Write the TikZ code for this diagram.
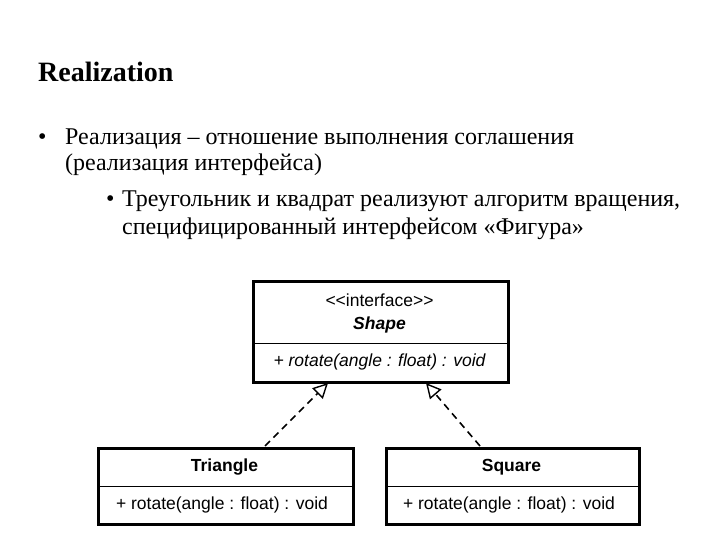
\documentclass[tikz,border=0pt]{standalone}
\usepackage{fontspec}
\setmainfont{Liberation Serif}
\setsansfont[Ligatures=NoCommon]{Liberation Sans}
\usetikzlibrary{arrows.meta}
\begin{document}
\begin{tikzpicture}[x=1pt,y=-1pt,
  box/.style={draw,line width=3pt},
  div/.style={line width=1pt},
  uml/.style={font=\sffamily\fontsize{17.5}{20}\selectfont,inner sep=0},
  txt/.style={anchor=base west,inner sep=0,font=\fontsize{24}{28}\selectfont},
  real/.style={line width=1.6pt,dash pattern=on 7pt off 5pt,-{Triangle[open,length=15pt,width=15pt,line width=1.4pt]}}]
\useasboundingbox (0,0) rectangle (720,540);
\node[anchor=base west,inner sep=0,font=\bfseries\fontsize{28}{32}\selectfont] (title) at (38,82) {Realization};
\node[txt] (b1) at (38,145) {•};
\node[txt] (l1) at (65,145) {Реализация – отношение выполнения соглашения};
\node[txt] (l2) at (65,171) {(реализация интерфейса)};
\node[txt] (b2) at (106,207) {•};
\node[txt] (l3) at (122,207) {Треугольник и квадрат реализуют алгоритм вращения,};
\node[txt] (l4) at (122,234) {специфицированный интерфейсом «Фигура»};
% Shape
\node[box,minimum width=255pt,minimum height=101pt,anchor=north west,inner sep=0] (shape) at (252,280) {};
\draw[div] (252,343) -- (507,343);
\node[uml] (st) at (379.5,300) {{<}{<}interface{>}{>}};
\node[uml,font=\sffamily\bfseries\itshape\fontsize{17.5}{20}\selectfont] (sn) at (379.5,325) {Shape};
\node[uml,font=\sffamily\itshape\fontsize{17.5}{20}\selectfont] (sm) at (379.5,362) {+ rotate(angle : float) : void};
% Triangle
\node[box,minimum width=255pt,minimum height=76pt,anchor=north west,inner sep=0] (tri) at (97,447) {};
\draw[div] (97,486) -- (352,486);
\node[uml,font=\sffamily\bfseries\fontsize{17.5}{20}\selectfont] (tn) at (224.5,467) {Triangle};
\node[uml] (tm) at (222,505) {+ rotate(angle : float) : void};
% Square
\node[box,minimum width=253pt,minimum height=76pt,anchor=north west,inner sep=0] (sq) at (385,447) {};
\draw[div] (385,486) -- (638,486);
\node[uml,font=\sffamily\bfseries\fontsize{17.5}{20}\selectfont] (qn) at (511.5,467) {Square};
\node[uml] (qm) at (509,505) {+ rotate(angle : float) : void};
\coordinate (a1) at (265,446);
\coordinate (t1) at (328,383);
\coordinate (a2) at (480,446);
\coordinate (t2) at (426,383);
\draw[real] (a1) -- (t1);
\draw[real] (a2) -- (t2);
\end{tikzpicture}
\end{document}
